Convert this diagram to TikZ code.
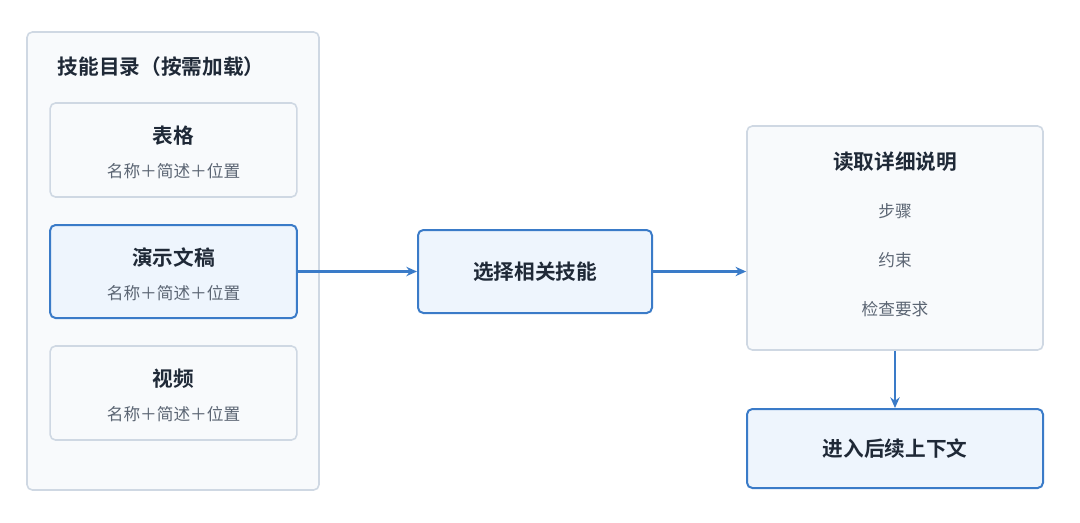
\documentclass[tikz,border=0pt]{standalone}
\usepackage{fontspec}
\setmainfont{Noto Sans CJK SC}[BoldFont={Noto Sans CJK SC Bold}]
\usetikzlibrary{arrows.meta,positioning}
\definecolor{grayline}{HTML}{CFD8E3}
\definecolor{grayfill}{HTML}{F8FAFC}
\definecolor{blueline}{HTML}{3A7BC8}
\definecolor{bluefill}{HTML}{EEF5FD}
\definecolor{titletext}{HTML}{1F2937}
\definecolor{subtext}{HTML}{5B6573}
\tikzset{every picture/.style={line width=0.75pt}}
\tikzset{
  graybox/.style={draw=grayline,fill=grayfill,rounded corners=4pt,line width=1.2pt},
  bluebox/.style={draw=blueline,fill=bluefill,rounded corners=4pt,line width=1.5pt},
  titlelabel/.style={text=titletext,font=\fontsize{15.5}{18}\selectfont\bfseries},
  sublabel/.style={text=subtext,font=\fontsize{12.5}{14}\selectfont},
  flow/.style={draw=blueline,line width=1.6pt,-{Stealth[length=8pt,width=7pt]}}
}
\begin{document}
\begin{tikzpicture}[x=0.75pt,y=0.75pt,yscale=-1,xscale=1]
	\useasboundingbox (0,0) rectangle (1080,522);

	% skill catalogue panel
	\node (panel) [graybox,minimum width=219pt,minimum height=343.5pt] at (173,261) {};
	\node (paneltitle) [titlelabel,anchor=west] at (53,67) {技能目录（按需加载）};

	% skill entries
	\node (sheet) [graybox,minimum width=185pt,minimum height=70.5pt] at (173.5,150) {};
	\node (sheettitle) [titlelabel] at (173.5,136) {表格};
	\node (sheetsub) [sublabel] at (173.5,171) {名称＋简述＋位置};

	\node (slides) [bluebox,minimum width=185pt,minimum height=69.75pt] at (173.5,271.5) {};
	\node (slidestitle) [titlelabel] at (173.5,258) {演示文稿};
	\node (slidessub) [sublabel] at (173.5,293) {名称＋简述＋位置};

	\node (video) [graybox,minimum width=185pt,minimum height=70.5pt] at (173.5,393) {};
	\node (videotitle) [titlelabel] at (173.5,379) {视频};
	\node (videosub) [sublabel] at (173.5,414) {名称＋简述＋位置};

	% selection step
	\node (select) [bluebox,minimum width=175.5pt,minimum height=62.25pt,titlelabel] at (535,271.5) {选择相关技能};

	% detailed reading
	\node (read) [graybox,minimum width=222pt,minimum height=168pt] at (895,238) {};
	\node (readtitle) [titlelabel] at (895,162) {读取详细说明};
	\node (steps) [sublabel] at (895,211) {步骤};
	\node (limits) [sublabel] at (895,260) {约束};
	\node (checks) [sublabel] at (895,309) {检查要求};

	\node (enter) [bluebox,minimum width=222pt,minimum height=59.25pt,titlelabel] at (895,448.5) {进入后续上下文};

	% connectors
	\draw [flow] (slides.east) -- (select.west);
	\draw [flow] (select.east) -- (select.east -| read.west);
	\draw [flow] (read.south) -- (enter.north);
\end{tikzpicture}
\end{document}
